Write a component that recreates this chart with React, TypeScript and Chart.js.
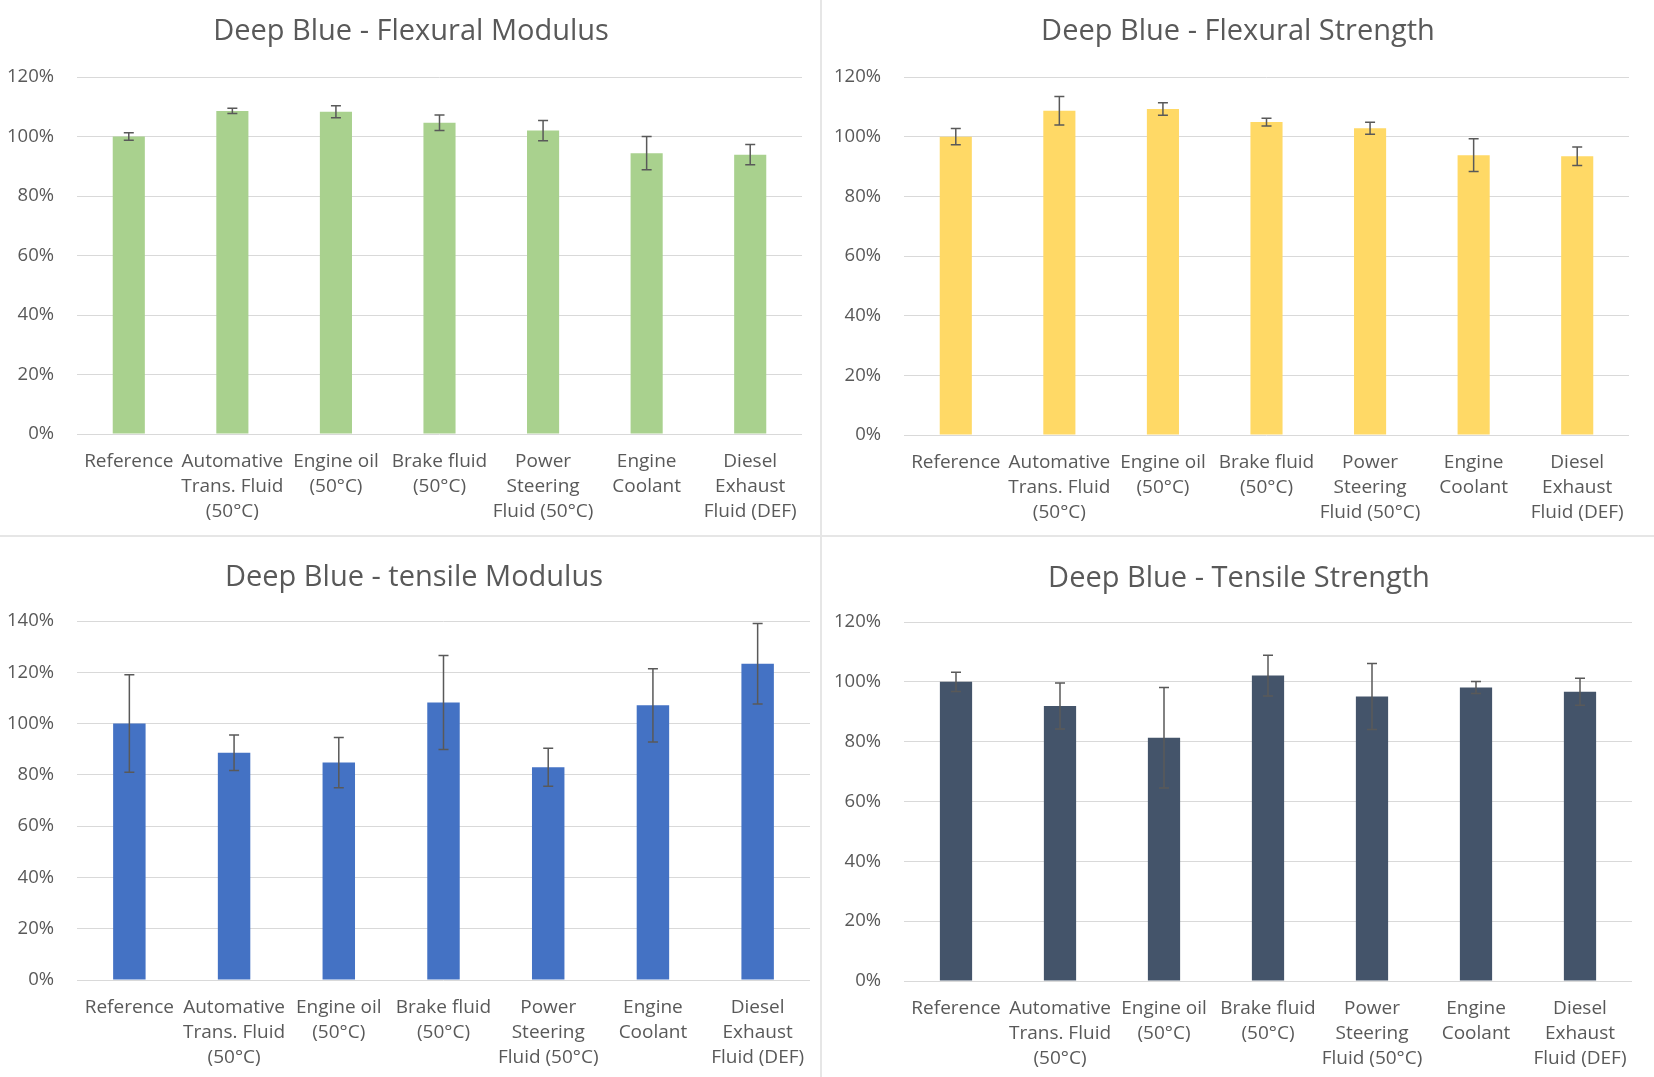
import React, { useEffect, useRef } from "react";
import { Chart, registerables } from "chart.js";

Chart.register(...registerables);

const categories: string[][] = [
  ["Reference"],
  ["Automative", "Trans. Fluid", "(50°C)"],
  ["Engine oil", "(50°C)"],
  ["Brake fluid", "(50°C)"],
  ["Power", "Steering", "Fluid (50°C)"],
  ["Engine", "Coolant"],
  ["Diesel", "Exhaust", "Fluid (DEF)"],
];

const flexModulus = [100, 108.6, 108.3, 104.6, 102.0, 94.4, 93.9];
const flexModulusErr = [1.3, 0.9, 2.0, 2.6, 3.4, 5.6, 3.4];

const flexStrength = [100, 108.7, 109.3, 104.9, 102.8, 93.8, 93.4];
const flexStrengthErr = [2.7, 4.8, 2.1, 1.3, 2.0, 5.5, 3.1];

const tensileModulus = [100, 88.6, 84.8, 108.2, 83.0, 107.1, 123.3];
const tensileModulusErr = [19, 6.9, 9.8, 18.3, 7.4, 14.3, 15.7];

const tensileStrength = [100, 91.9, 81.3, 102.1, 95.1, 98.1, 96.7];
const tensileStrengthErr = [3.2, 7.7, 16.8, 6.8, 11, 2, 4.5];

const FONT = "'Open Sans', 'Noto Sans', sans-serif";
const TEXT = "#595959";

type PanelProps = {
  title: string;
  values: number[];
  errors: number[];
  color: string;
  yMax: number;
  left: number;
  top: number;
  width: number;
  height: number;
  areaLeft: number;
  areaRight: number;
  areaTop: number;
  areaBottom: number;
  titleX: number;
  titleY: number;
};

const errorBarPlugin = {
  id: "errorBars",
  afterDatasetsDraw(chart: any, _args: any, opts: any) {
    const errs: number[] = opts.errors || [];
    const ctx = chart.ctx;
    const meta = chart.getDatasetMeta(0);
    const yScale = chart.scales.y;
    const vals = chart.data.datasets[0].data as number[];
    ctx.save();
    ctx.strokeStyle = opts.color || "#595959";
    ctx.lineWidth = 1.5;
    meta.data.forEach((bar: any, i: number) => {
      const e = errs[i];
      if (e == null) return;
      const x = bar.x;
      const yHi = yScale.getPixelForValue(vals[i] + e);
      const yLo = yScale.getPixelForValue(vals[i] - e);
      const cap = 5;
      ctx.beginPath();
      ctx.moveTo(x, yHi);
      ctx.lineTo(x, yLo);
      ctx.moveTo(x - cap, yHi);
      ctx.lineTo(x + cap, yHi);
      ctx.moveTo(x - cap, yLo);
      ctx.lineTo(x + cap, yLo);
      ctx.stroke();
    });
    ctx.restore();
  },
};

const panelTitlePlugin = {
  id: "panelTitle",
  afterDraw(chart: any, _args: any, opts: any) {
    const ctx = chart.ctx;
    ctx.save();
    ctx.fillStyle = opts.color || TEXT;
    ctx.font = `normal ${opts.size}px ${FONT}`;
    ctx.textAlign = "center";
    ctx.textBaseline = "middle";
    ctx.fillText(opts.text, opts.x, opts.y);
    ctx.restore();
  },
};

function ChartPanel(p: PanelProps) {
  const ref = useRef<HTMLCanvasElement>(null);
  useEffect(() => {
    if (!ref.current) return;
    const chart = new Chart(ref.current, {
      type: "bar",
      data: {
        labels: categories,
        datasets: [
          {
            data: p.values,
            backgroundColor: p.color,
            borderWidth: 0,
            barPercentage: 0.31,
            categoryPercentage: 1,
          },
        ],
      },
      plugins: [errorBarPlugin, panelTitlePlugin],
      options: {
        animation: false,
        responsive: false,
        devicePixelRatio: 1,
        layout: {
          padding: { left: 0, right: p.width - p.areaRight, top: p.areaTop, bottom: 0 },
        },
        plugins: {
          legend: { display: false },
          tooltip: { enabled: false },
          title: { display: false },
          panelTitle: { text: p.title, x: p.titleX, y: p.titleY, size: 29, color: TEXT },
          errorBars: { errors: p.errors, color: "#595959" },
        } as any,
        scales: {
          x: {
            grid: { display: false, drawTicks: false },
            border: { display: false },
            ticks: {
              color: TEXT,
              font: { family: FONT, size: 19, lineHeight: 25 / 19 },
              padding: 15,
              maxRotation: 0,
              autoSkip: false,
            },
            afterFit: (s: any) => {
              s.height = p.height - p.areaBottom;
            },
          },
          y: {
            min: 0,
            max: p.yMax,
            ticks: {
              stepSize: 20,
              color: TEXT,
              font: { family: FONT, size: 18.5 },
              padding: 23,
              callback: (v: any) => v + "%",
            },
            grid: { color: "#D9D9D9", lineWidth: 1, drawTicks: false },
            border: { display: false },
            afterFit: (s: any) => {
              s.width = p.areaLeft;
            },
          },
        },
      } as any,
    });
    return () => chart.destroy();
  }, []);
  return (
    <canvas
      ref={ref}
      width={p.width}
      height={p.height}
      aria-label={p.title}
      style={{
        position: "absolute",
        left: p.left,
        top: p.top,
        width: p.width,
        height: p.height,
        display: "block",
      }}
    />
  );
}

export default function App() {
  return (
    <div
      style={{
        position: "fixed",
        left: 0,
        top: 0,
        width: 1654,
        height: 1077,
        background: "#ffffff",
        overflow: "hidden",
      }}
    >
      <ChartPanel
        title="Deep Blue - Flexural Modulus"
        values={flexModulus}
        errors={flexModulusErr}
        color="#A9D18E"
        yMax={120}
        left={0}
        top={0}
        width={820}
        height={535}
        areaLeft={77}
        areaRight={802}
        areaTop={77}
        areaBottom={434}
        titleX={411}
        titleY={32}
      />
      <ChartPanel
        title="Deep Blue - Flexural Strength"
        values={flexStrength}
        errors={flexStrengthErr}
        color="#FFD966"
        yMax={120}
        left={822}
        top={0}
        width={832}
        height={535}
        areaLeft={82}
        areaRight={807}
        areaTop={77}
        areaBottom={435}
        titleX={416}
        titleY={32}
      />
      <ChartPanel
        title="Deep Blue - tensile Modulus"
        values={tensileModulus}
        errors={tensileModulusErr}
        color="#4472C4"
        yMax={140}
        left={0}
        top={537}
        width={820}
        height={540}
        areaLeft={77}
        areaRight={810}
        areaTop={84}
        areaBottom={443}
        titleX={414}
        titleY={41}
      />
      <ChartPanel
        title="Deep Blue - Tensile Strength"
        values={tensileStrength}
        errors={tensileStrengthErr}
        color="#44546A"
        yMax={120}
        left={822}
        top={537}
        width={832}
        height={540}
        areaLeft={82}
        areaRight={810}
        areaTop={85}
        areaBottom={444}
        titleX={417}
        titleY={42}
      />
      <div
        style={{
          position: "absolute",
          left: 820,
          top: 0,
          width: 2,
          height: 1077,
          background: "#E6E6E6",
        }}
      />
      <div
        style={{
          position: "absolute",
          left: 0,
          top: 535,
          width: 1654,
          height: 2,
          background: "#E6E6E6",
        }}
      />
    </div>
  );
}
